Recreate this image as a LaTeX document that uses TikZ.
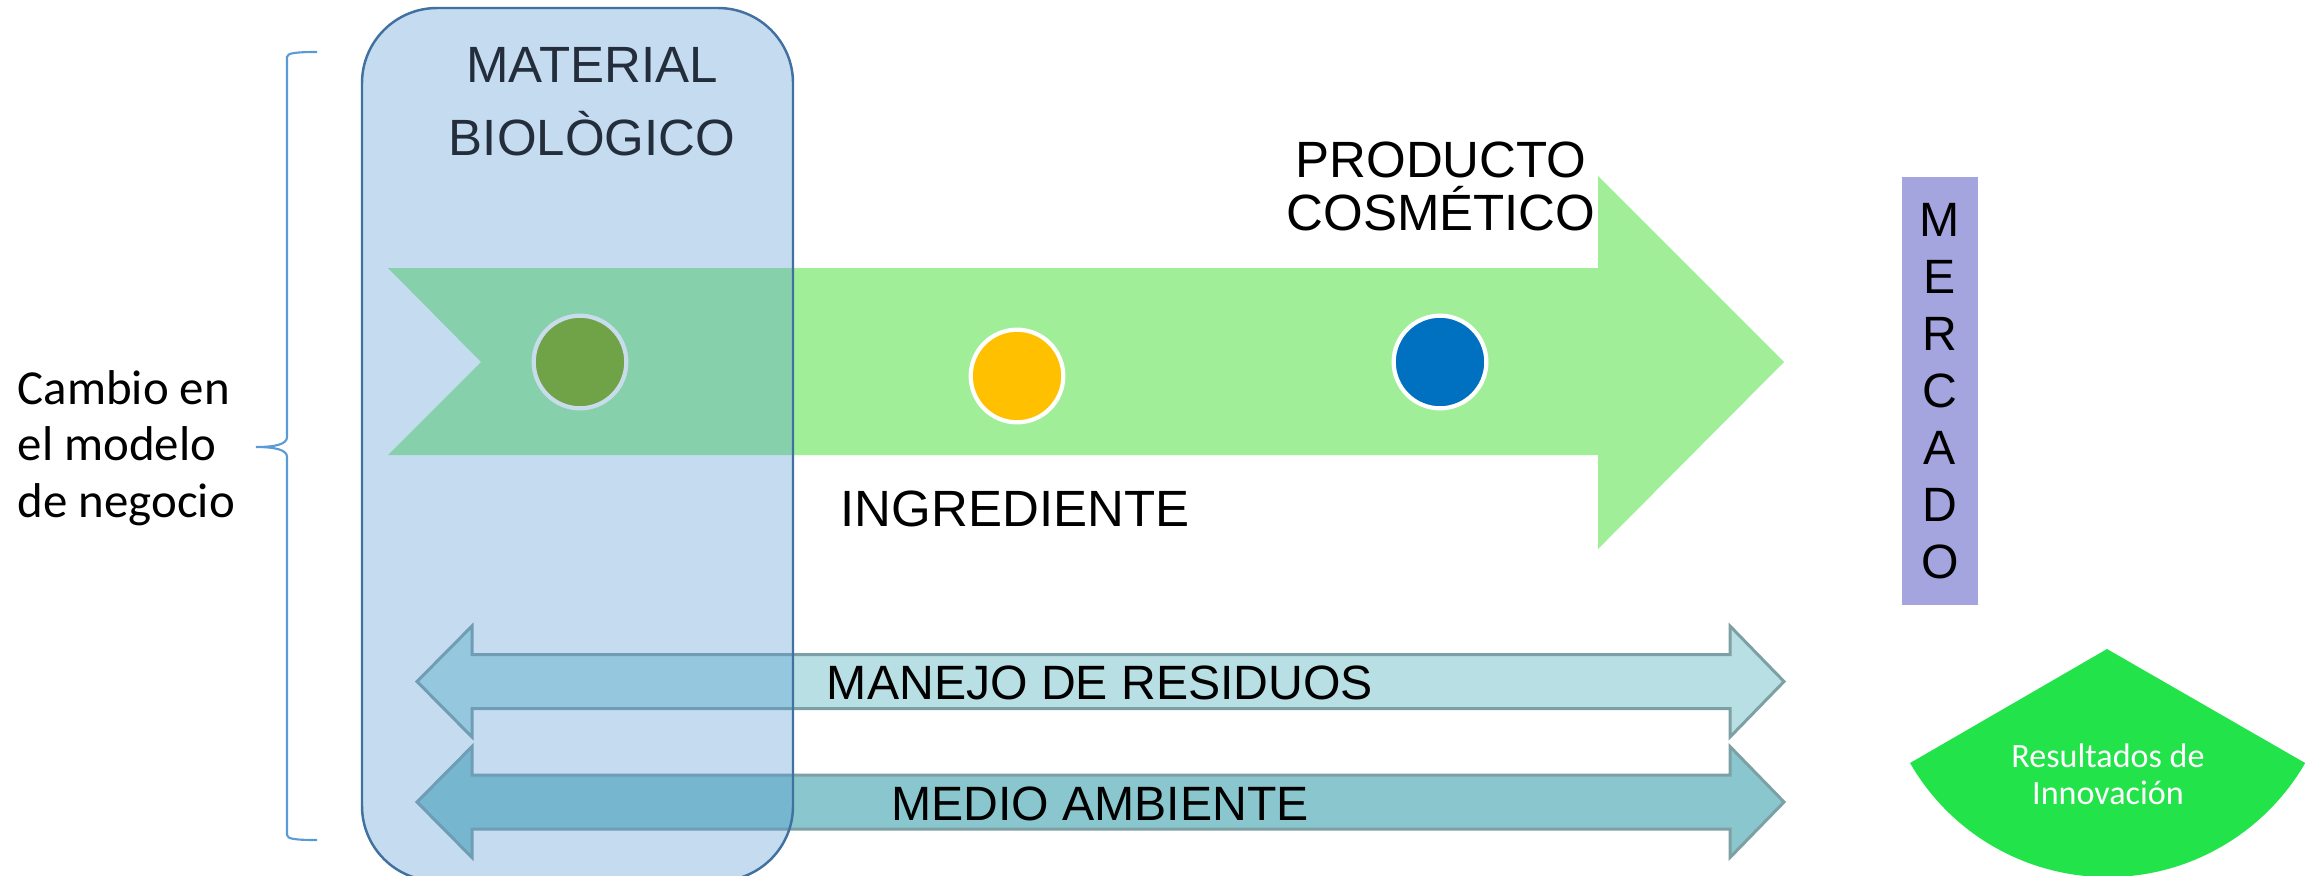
\documentclass[tikz,border=0pt]{standalone}
\usepackage{fontspec}
\setmainfont{Liberation Sans}
\newfontfamily\carlito{Carlito}
\usetikzlibrary{positioning}
\definecolor{arrgreen}{RGB}{160, 238, 152}
\definecolor{matfill}{RGB}{84, 152, 211}
\definecolor{matline}{RGB}{65, 113, 160}
\definecolor{matdark}{RGB}{35, 45, 60}
\definecolor{dotolive}{RGB}{112, 163, 72}
\definecolor{dotring}{RGB}{200, 220, 235}
\definecolor{dotyellow}{RGB}{255, 192, 0}
\definecolor{dotblue}{RGB}{0, 112, 192}
\definecolor{residfill}{RGB}{184, 224, 228}
\definecolor{ambfill}{RGB}{138, 198, 206}
\definecolor{bandline}{RGB}{125, 160, 165}
\definecolor{mercfill}{RGB}{164, 164, 222}
\definecolor{resgreen}{RGB}{35, 227, 75}
\definecolor{bracecol}{RGB}{91, 155, 213}

\begin{document}
\begin{tikzpicture}[x=0.01cm, y=-0.01cm,
    caps/.style={font=\fontsize{14.5}{16}\selectfont, inner sep=0pt, anchor=base},
    bandtxt/.style={font=\fontsize{13.7}{16}\selectfont, inner sep=0pt, anchor=base},
    dot/.style={circle, minimum size=0.926cm, inner sep=0pt, draw=white, line width=1.2pt},
    band/.style={draw=bandline, line width=0.85pt, line join=miter},
    calib/.style={font=\carlito\fontsize{13.9}{16}\selectfont, inner sep=0pt, anchor=base west}
  ]
  \useasboundingbox (0,0) rectangle (2313,875);
  \clip (0,0) rectangle (2313,875);

  % main flow arrow
  \fill[arrgreen] (388,268) -- (1598,268) -- (1598,176) -- (1784,362) -- (1598,549)
    -- (1598,455) -- (388,455) -- (481,362) -- cycle;

  % double arrows
  \foreach \yc/\fc/\txt [count=\i] in {681.5/residfill/MANEJO DE RESIDUOS, 802/ambfill/MEDIO AMBIENTE} {
      \draw[band, fill=\fc] (417,\yc) -- (472,\yc-55.5) -- (472,\yc-27) -- (1730,\yc-27)
        -- (1730,\yc-55.5) -- (1784,\yc) -- (1730,\yc+55.5) -- (1730,\yc+27)
        -- (472,\yc+27) -- (472,\yc+55.5) -- cycle;
      \node[bandtxt] (band\i) at (1100,\yc+18) {\txt};
    }

  % material box
  \draw[matline, line width=0.7pt, fill=matfill, fill opacity=0.34, rounded corners=0.75cm]
    (362,8) rectangle (793,881);
  \node[caps, text=matdark] (mat) at (592,82) {MATERIAL};
  \node[caps, text=matdark] (bio) at ([yshift=-0.73cm]mat.base) {BIOLÒGICO};

  \node[dot, fill=dotolive, draw=dotring] (c1) at (580,362) {};
  \node[dot, fill=dotyellow] (c2) at (1017,376) {};
  \node[dot, fill=dotblue] (c3) at (1440,362) {};

  \node[caps] (prod) at (1441,177) {PRODUCTO};
  \node[caps] (cosm) at ([yshift=-0.53cm]prod.base) {COSMÉTICO};
  \node[caps] (ingr) at (1015,526) {INGREDIENTE};

  % mercado column
  \node[fill=mercfill, minimum width=0.76cm, minimum height=4.28cm, inner sep=0pt] (merc) at (1940,391) {};
  \foreach \l [count=\i] in {M,E,R,C,A,D,O} {
      \node[bandtxt] (merc\i) at (1940,{236+57*(\i-1)}) {\l};
    }

  % resultados
  \fill[resgreen] (2107,649) -- (1910,763) arc[start angle=210, end angle=330, radius=2.28cm] -- cycle;
  \node[font=\carlito\fontsize{9.7}{11}\selectfont, text=white, inner sep=0pt, anchor=base] (res1) at (2108,767) {Resultados de};
  \node[font=\carlito\fontsize{9.7}{11}\selectfont, text=white, inner sep=0pt, anchor=base] (res2) at (2108,804) {Innovación};

  % brace and label
  \draw[bracecol, line width=0.6pt] (317,52) .. controls (296,52) and (287,53) .. (287,57) -- (287,437)
    .. controls (287,444) and (276,447) .. (256,447) .. controls (276,447) and (287,450) .. (287,457)
    -- (287,835) .. controls (287,839) and (296,840) .. (317,840);
  \foreach \w [count=\i] in {Cambio en, el modelo, de negocio} {
      \node[calib] (camb\i) at (17,{404+56.5*(\i-1)}) {\w};
    }

\end{tikzpicture}
\end{document}
